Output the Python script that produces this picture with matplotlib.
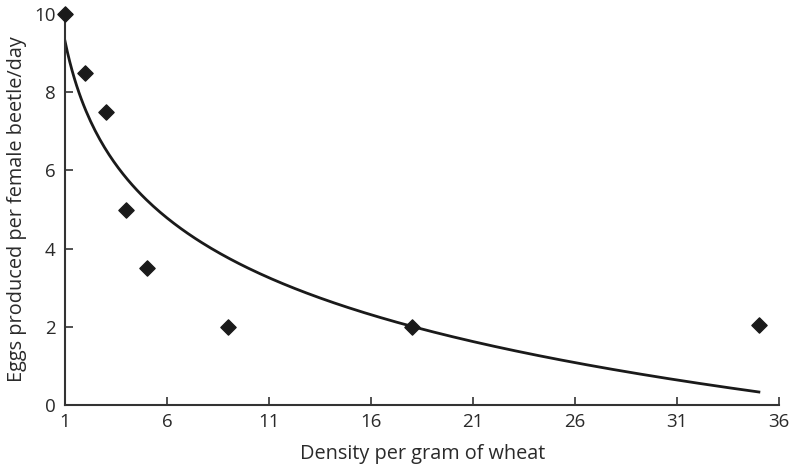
import numpy as np
import matplotlib
matplotlib.use("Agg")
import matplotlib.pyplot as plt

plt.rcParams['font.family'] = ['Open Sans', 'DejaVu Sans']

# beetle density vs egg output
density = [1, 2, 3, 4, 5, 9, 18, 35]
eggs = [10, 8.5, 7.5, 5, 3.5, 2, 2, 2.05]
xticks = [1, 6, 11, 16, 21, 26, 31, 36]
yticks = [0, 2, 4, 6, 8, 10]

# logarithmic trend line: y = a + b*ln(x)
b, a = np.polyfit(np.log(density), eggs, 1)
xs = np.linspace(1, 35, 300)
ys = a + b * np.log(xs)

fig = plt.figure(figsize=(7.91, 4.69), dpi=100)
ax = fig.add_axes([0.0822, 0.1365, 0.903, 0.8335])

ax.plot(xs, ys, color='#1a1a1a', lw=2.0, zorder=2)
ax.scatter(density, eggs, marker='D', s=60, color='#1a1a1a', zorder=3, clip_on=False)

ax.set_xlim(1, 36)
ax.set_ylim(0, 10)
ax.set_xticks(xticks)
ax.set_yticks(yticks)

for side in ['top', 'right']:
    ax.spines[side].set_visible(False)
for side in ['left', 'bottom']:
    ax.spines[side].set_color('#333333')
    ax.spines[side].set_linewidth(1.5)

ax.tick_params(direction='in', length=6, width=1.2, color='#333333',
               labelsize=13.5, labelcolor='#2a2a2a')
ax.tick_params(axis='x', pad=6)
ax.tick_params(axis='y', pad=7)

ax.set_xlabel('Density per gram of wheat', fontsize=14.3, color='#2a2a2a', labelpad=9)
ax.set_ylabel('Eggs produced per female beetle/day', fontsize=14.3, color='#2a2a2a', labelpad=5)

fig.savefig('out.png', dpi=100)
